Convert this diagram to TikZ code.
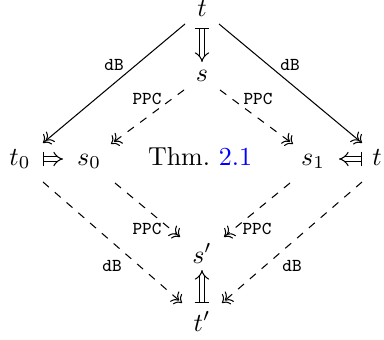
\documentclass[tikz,border=0pt]{standalone}
\usetikzlibrary{cd,arrows.meta}
\begin{document}
\begin{tikzpicture}[x=0.3846pt,y=-0.3846pt,
  obj/.style={inner sep=0pt, anchor=base},
  lab/.style={font=\ttfamily\scriptsize, inner sep=0pt},
  th/.style={-{cm double to}, line width=0.4pt},
  dth/.style={th, dashed},
]
\useasboundingbox (0,0) rectangle (384,339);
\node[obj] (t)  at (202,17) {$t$};
\node[obj] (s)  at (202,82) {$s$};
\node[obj] (t0) at (20,165) {$t_0$};
\node[obj] (s0) at (89,165) {$s_0$};
\node[obj] (thm) at (200,165) {Thm.~\textcolor{blue}{2.1}};
\node[obj] (s1) at (313,165) {$s_1$};
\node[obj] (t1) at (377,165) {$t$};
\node[obj] (sp) at (202,263) {$s'$};
\node[obj] (tp) at (202,331) {$t'$};

% implications
\draw[/tikz/commutative diagrams/.cd, Mapsto]
  ([shift={(0,11)}]t.base) -- ([shift={(0,-20)}]s.base);
\draw[/tikz/commutative diagrams/.cd, Mapsto]
  ([shift={(23,-6)}]t0.base) -- ([shift={(-26,-6)}]s0.base);
\draw[/tikz/commutative diagrams/.cd, Mapsto]
  ([shift={(-15,-6)}]t1.base) -- ([shift={(26,-6)}]s1.base);
\draw[/tikz/commutative diagrams/.cd, Mapsto]
  ([shift={(0,-28)}]tp.base) -- ([shift={(0,7)}]sp.base);

% dB (solid)
\draw[th] ([shift={(-17,7)}]t.base) -- ([shift={(23,-22)}]t0.base);
\draw[th] ([shift={(17,7)}]t.base) -- ([shift={(-15,-22)}]t1.base);
% PPC
\draw[dth] ([shift={(-18,8)}]s.base) -- ([shift={(22,-21)}]s0.base);
\draw[dth] ([shift={(18,8)}]s.base) -- ([shift={(-20,-21)}]s1.base);
\draw[dth] ([shift={(26,18)}]s0.base) -- ([shift={(-22,-26)}]sp.base);
\draw[dth] ([shift={(-23,18)}]s1.base) -- ([shift={(22,-26)}]sp.base);
% dB (dashed)
\draw[dth] ([shift={(23,17)}]t0.base) -- ([shift={(-20,-28)}]tp.base);
\draw[dth] ([shift={(-15,17)}]t1.base) -- ([shift={(20,-28)}]tp.base);

\node[lab] (l1) at (114,65) {dB};
\node[lab] (l2) at (290,65) {dB};
\node[lab] (l3) at (147,99) {PPC};
\node[lab] (l4) at (258,99) {PPC};
\node[lab] (l5) at (147,229) {PPC};
\node[lab] (l6) at (257,229) {PPC};
\node[lab] (l7) at (112,266) {dB};
\node[lab] (l8) at (292,266) {dB};
\end{tikzpicture}
\end{document}
